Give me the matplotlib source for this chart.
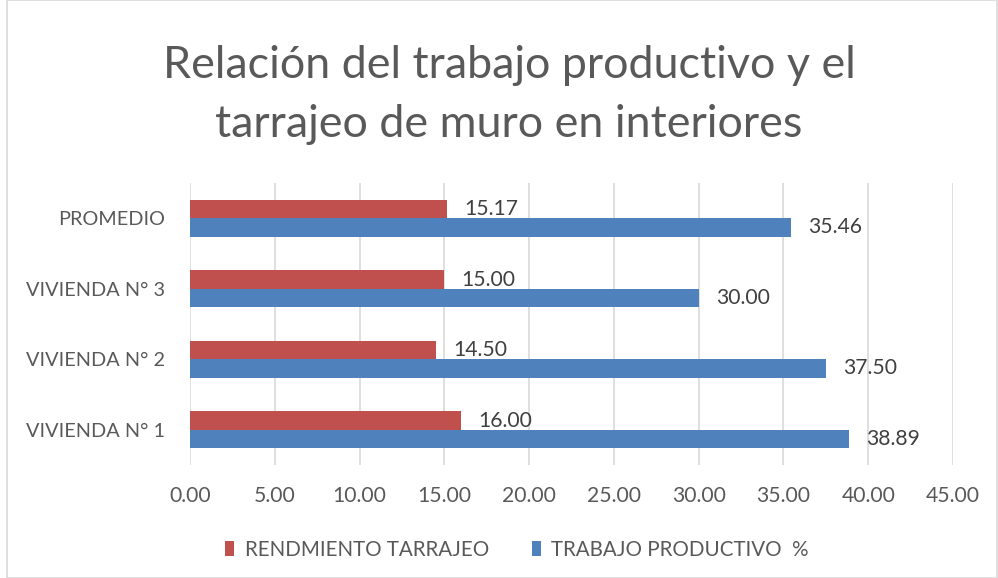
import matplotlib.pyplot as plt
from matplotlib.patches import Rectangle
import numpy as np

categorias = ['VIVIENDA N° 1', 'VIVIENDA N° 2', 'VIVIENDA N° 3', 'PROMEDIO']
rendimiento = [16.00, 14.50, 15.00, 15.17]
trabajo = [38.89, 37.50, 30.00, 35.46]
ticks_x = [0, 5, 10, 15, 20, 25, 30, 35, 40, 45]

gris = '#595959'
rojo = '#C0504D'
azul = '#4F81BD'

plt.rcParams['font.family'] = ['Lato', 'DejaVu Sans']

fig = plt.figure(figsize=(9.98, 5.78), dpi=100)
ax = fig.add_axes([190 / 998, 1 - 465 / 578, 763 / 998, 282 / 578])

y = np.arange(len(categorias))
h = 0.262
ax.barh(y + h / 2, rendimiento, h, color=rojo, label='RENDMIENTO TARRAJEO', zorder=3)
ax.barh(y - h / 2, trabajo, h, color=azul, label='TRABAJO PRODUCTIVO  %', zorder=3)

for i in range(len(categorias)):
    ax.text(rendimiento[i] + 1.0, y[i] + h / 2, f'{rendimiento[i]:.2f}',
            va='center', ha='left', fontsize=15.2, color='#404040')
    ax.text(trabajo[i] + 1.0, y[i] - h / 2, f'{trabajo[i]:.2f}',
            va='center', ha='left', fontsize=15.2, color='#404040')

ax.set_xlim(0, 45)
ax.set_ylim(-0.5, len(categorias) - 0.5)
ax.set_xticks(ticks_x)
ax.set_xticklabels([f'{t:.2f}' for t in ticks_x])
ax.set_yticks(y)
ax.set_yticklabels(categorias)
ax.tick_params(axis='both', length=0, labelcolor=gris)
ax.tick_params(axis='x', pad=15, labelsize=15.2)
ax.tick_params(axis='y', pad=18, labelsize=14.3)
ax.grid(axis='x', color='#D9D9D9', linewidth=1.2, zorder=0)
for s in ax.spines.values():
    s.set_visible(False)

fig.text(0.51, 1 - 95 / 578, 'Relación del trabajo productivo y el\ntarrajeo de muro en interiores',
         ha='center', va='center', fontsize=32.3, color=gris, linespacing=1.55)

ax.legend(loc='center', bbox_to_anchor=(0.518, 1 - 550 / 578), bbox_transform=fig.transFigure,
          ncol=2, frameon=False, fontsize=14.8, labelcolor=gris, handlelength=0.45, handleheight=0.75,
          handletextpad=0.5, columnspacing=2.1)

fig.patches.append(Rectangle((7 / 998, 0), 1 - 8 / 998, 1, transform=fig.transFigure,
                             fill=False, edgecolor='#D9D9D9', linewidth=1.2))

fig.savefig('out.png', dpi=100)
